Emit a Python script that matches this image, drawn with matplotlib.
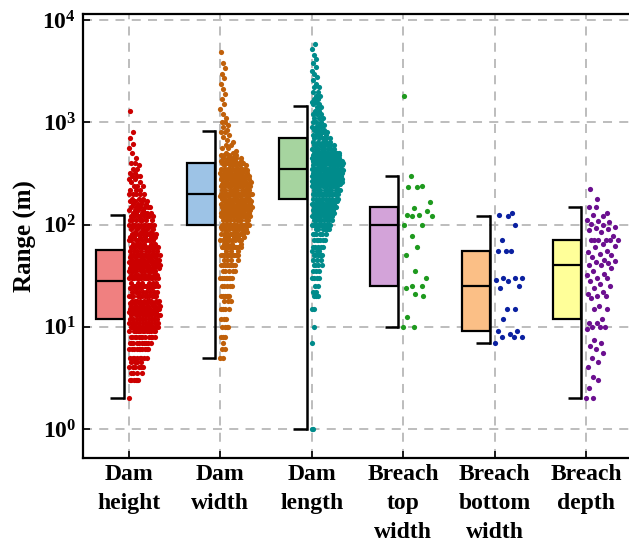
import matplotlib
matplotlib.use("Agg")
import matplotlib.pyplot as plt
import numpy as np

# ---- data -------------------------------------------------------------
categories = ["Dam\nheight", "Dam\nwidth", "Dam\nlength",
              "Breach\ntop\nwidth", "Breach\nbottom\nwidth", "Breach\ndepth"]

# box statistics (m): lower whisker, Q1, median, Q3, upper whisker
whis_lo = [2, 5, 1, 10, 7, 2]
q1 = [12, 100, 180, 25, 9, 12]
median = [28, 200, 350, 100, 25, 40]
q3 = [57, 400, 700, 150, 55, 70]
whis_hi = [125, 830, 1450, 300, 120, 150]

# observed records, value (m) and number of records with that value
height_vals = [2, 3, 3.5, 4, 4.5, 5, 6, 7, 8, 9, 10, 11, 12, 13, 14, 15, 16, 17, 18, 20,
               22, 24, 25, 27, 30, 32, 35, 38, 40, 43, 45, 48, 50, 55, 60, 65, 70, 75, 80, 85,
               90, 95, 100, 110, 120, 130, 140, 150, 160, 170, 180, 200, 220, 240, 260, 280,
               300, 320, 350, 380, 400, 450, 500, 560, 620, 700, 800, 1300]
height_counts = [1, 6, 4, 6, 4, 8, 10, 10, 12, 12, 16, 11, 10, 10, 10, 12, 8, 8, 10, 12,
                 8, 6, 8, 6, 14, 8, 10, 8, 12, 8, 8, 6, 14, 8, 12, 6, 8, 6, 8, 4,
                 5, 3, 12, 7, 8, 6, 4, 6, 4, 4, 3, 5, 3, 3, 2, 2,
                 3, 2, 2, 1, 2, 1, 1, 1, 1, 1, 1, 1]

width_vals = [5, 6, 7, 8, 10, 12, 15, 18, 20, 25, 30, 35, 40, 45, 50, 55, 60, 65, 70, 75,
              80, 85, 90, 95, 100, 110, 120, 130, 140, 150, 160, 170, 180, 190, 200, 220,
              240, 250, 260, 280, 300, 320, 340, 350, 380, 400, 420, 450, 480, 500, 530,
              560, 600, 640, 680, 720, 760, 800, 850, 900, 950, 1000, 1100, 1200, 1350,
              1500, 1700, 1900, 2100, 2400, 2700, 3000, 3400, 3800, 4900]
width_counts = [2, 2, 1, 3, 4, 3, 4, 3, 6, 5, 8, 5, 8, 4, 12, 3, 10, 4, 8, 5,
                10, 4, 8, 3, 20, 10, 14, 10, 10, 16, 10, 8, 10, 6, 18, 10,
                10, 10, 8, 8, 14, 8, 6, 8, 6, 10, 5, 6, 4, 2, 1,
                2, 2, 1, 1, 1, 1, 2, 1, 1, 1, 2, 1, 1, 1,
                1, 1, 1, 1, 1, 1, 1, 1, 1, 1]

length_vals = [1, 7, 10, 15, 20, 22, 25, 30, 35, 40, 45, 50, 55, 60, 70, 80, 90, 100, 110,
               120, 130, 140, 150, 160, 170, 180, 200, 220, 240, 250, 260, 270, 280, 300,
               320, 340, 350, 380, 400, 420, 450, 480, 500, 550, 600, 650, 700, 750, 800,
               850, 900, 950, 1000, 1100, 1200, 1300, 1400, 1500, 1600, 1700, 1800, 2000,
               2200, 2400, 2600, 2800, 3000, 3200, 3500, 3800, 4200, 4600, 5200, 5800]
length_counts = [2, 1, 1, 2, 3, 2, 2, 4, 3, 4, 3, 6, 3, 5, 6, 6, 6, 14, 8,
                 10, 8, 8, 14, 8, 6, 10, 20, 10, 10, 14, 6, 8, 8, 20,
                 10, 8, 14, 10, 18, 10, 16, 12, 14, 8, 8, 5, 5, 4, 4,
                 3, 3, 2, 3, 3, 3, 2, 2, 2, 2, 2, 2, 2,
                 2, 1, 1, 1, 1, 1, 1, 1, 1, 1, 1, 1]

top_width = [1800, 300, 240, 235, 235, 165, 145, 135, 125, 125, 122, 120, 98, 98, 78,
             60, 50, 35, 30, 25, 25, 24, 21, 20, 12.5, 10, 10]
bottom_width = [130, 125, 120, 98, 70, 55, 55, 55, 30, 30, 30, 29, 28, 25, 24,
                15, 15, 12, 9, 9, 8.5, 8, 8, 8, 7]
depth = [225, 180, 150, 148, 130, 125, 120, 110, 108, 105, 102, 100, 95, 92, 90, 88, 85,
         78, 70, 70, 70, 70, 70, 70, 65, 62, 60, 55, 54, 52, 50, 48, 45, 44, 43, 42, 40,
         40, 38, 35, 33, 32, 30, 30, 28, 26, 25, 24, 22, 21, 20, 20, 19, 16, 15, 15, 12,
         11, 11, 10, 10, 10, 9.5, 7.5, 7, 6.5, 6, 5.5, 5, 4.5, 4, 3.2, 3, 2.5, 2, 2]

samples = [np.repeat(height_vals, height_counts),
           np.repeat(width_vals, width_counts),
           np.repeat(length_vals, length_counts),
           np.array(top_width, float),
           np.array(bottom_width, float),
           np.array(depth, float)]

box_colors = ["#f08080", "#9dc3e6", "#a6d49f", "#d3a3d9", "#fbbf86", "#ffff99"]
dot_colors = ["#cc0000", "#c0600a", "#008b8b", "#1e9a1e", "#0a20a0", "#6b0f8f"]

yticks = [1, 10, 100, 1000, 10000]
ytick_labels = [r"$10^{%d}$" % k for k in range(5)]

# ---- style ------------------------------------------------------------
plt.rcParams["font.family"] = "Liberation Serif"
plt.rcParams["font.weight"] = "bold"
plt.rcParams["mathtext.fontset"] = "custom"
plt.rcParams["mathtext.rm"] = "Liberation Serif:bold"
plt.rcParams["mathtext.bf"] = "Liberation Serif:bold"
plt.rcParams["mathtext.it"] = "Liberation Serif:bold:italic"


def half_sina(vals, width=0.35, bw=0.11, power=0.6):
    # one-sided jitter whose spread follows the density of log10(value)
    ly = np.log10(vals)
    d = np.exp(-0.5 * ((ly[:, None] - ly[None, :]) / bw) ** 2).sum(1)
    d = (d / d.max()) ** power
    u = (np.arange(len(vals)) * 0.6180339887) % 1.0
    return u * width * d


fig = plt.figure(figsize=(6.29, 5.45), dpi=100)
ax = fig.add_axes([83 / 629, 87 / 545, 549 / 629, 444 / 545])
ax.set_yscale("log")

pos = np.arange(1, len(categories) + 1)
box_l, box_r, cap_l = 0.36, 0.055, 0.20

for i, x in enumerate(pos):
    v = np.sort(samples[i])
    ax.scatter(x + half_sina(v), v, s=14, color=dot_colors[i], lw=0, zorder=3)

    ax.bar(x - box_l, q3[i] - q1[i], bottom=q1[i], width=box_l - box_r, align="edge",
           color=box_colors[i], edgecolor="black", linewidth=1.6, zorder=2)
    ax.hlines(median[i], x - box_l, x - box_r, color="black", lw=1.6, zorder=4)
    wl = ax.vlines(x - box_r, whis_lo[i], whis_hi[i], color="black", lw=1.8, zorder=4)
    wl.set_capstyle("projecting")
    ax.hlines([whis_lo[i], whis_hi[i]], x - cap_l, x - box_r, color="black", lw=1.8,
              zorder=4)

ax.set_xlim(0.5, 6.5)
ax.set_ylim(0.52, 11500)
ax.set_yticks(yticks, ytick_labels)
ax.minorticks_off()
ax.set_xticks(pos, categories, linespacing=1.5)

ax.grid(True, color="#b8b8b8", ls=(0, (5, 4)), lw=1.3)
ax.set_axisbelow(True)
ax.tick_params(direction="in", length=5, width=1.2, labelsize=17, pad=5)
ax.tick_params(axis="x", pad=4)
for sp in ax.spines.values():
    sp.set_linewidth(1.6)

ax.set_ylabel("Range (m)", fontsize=18, fontweight="bold", labelpad=4)

fig.savefig("out.png", dpi=100)
